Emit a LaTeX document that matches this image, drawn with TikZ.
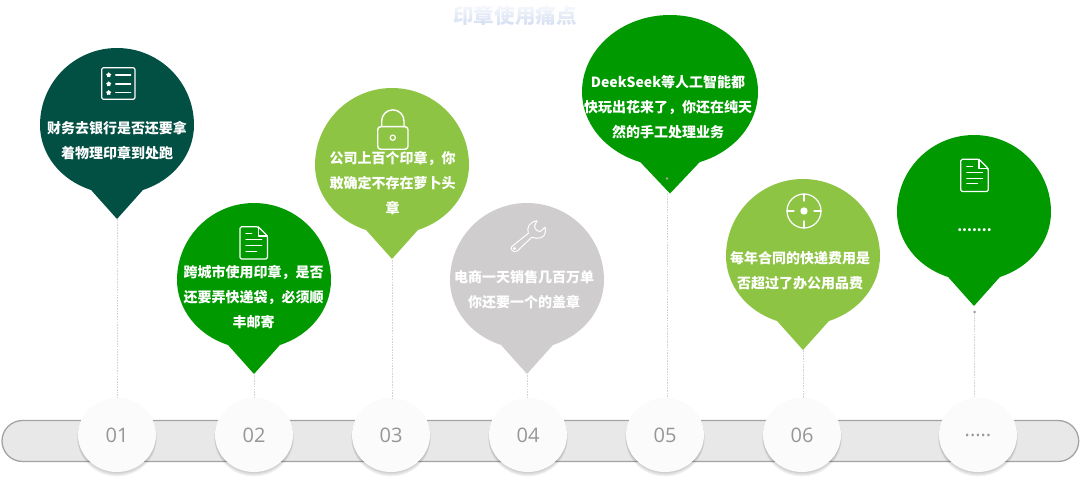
\documentclass[tikz,border=0pt]{standalone}
\usepackage{fontspec}
\setmainfont{Noto Sans CJK SC}
\newfontfamily\numfont{Open Sans}
\usetikzlibrary{positioning, shapes.geometric, fadings}
\definecolor{PinTeal}{RGB}{2,79,67}
\definecolor{PinGreen}{RGB}{0,153,0}
\definecolor{PinLime}{RGB}{142,196,68}
\definecolor{PinGrey}{RGB}{207,205,206}
\definecolor{BarFill}{RGB}{232,232,232}
\definecolor{BarLine}{RGB}{163,163,163}
\definecolor{BadgeFill}{RGB}{251,251,251}
\definecolor{BadgeText}{RGB}{150,150,150}
\definecolor{ConnLine}{RGB}{212,212,212}
\definecolor{TitleBlue}{RGB}{212,223,242}
\newcommand{\moredots}{\raisebox{-3pt}{.{}.{}.{}.{}.}}
\tikzset{
    pintext/.style={text=white, font=\fontsize{14}{25}\selectfont\bfseries, align=center, inner sep=0},
    badge/.style={ellipse, fill=BadgeFill, minimum width=78, minimum height=74, inner sep=0,
        text=BadgeText, font=\fontsize{20}{24}\numfont},
    conn/.style={ConnLine, line width=0.7, dash pattern=on 1.6 off 1.1},
    icon/.style={white, line width=1.2, line join=round, line cap=round},
    docicon/.pic={
        \draw[icon, rounded corners=1.5] (-13.7,-16) -- (-13.7,16.2) -- (4.5,16.2) -- (13.7,7) -- (13.7,-16) -- cycle;
        \draw[icon] (4.5,16.2) -- (4.5,7) -- (13.7,7);
        \draw[icon] (-7.7,9.3) -- (-2,9.3);
        \draw[icon] (-7.7,3.3) -- (8,3.3);
        \draw[icon] (-7.7,-2.7) -- (8,-2.7);
        \draw[icon] (-7.7,-8.3) -- (3,-8.3);
    }
}
\begin{document}
\begin{tikzpicture}[x=1pt, y=1pt]
\useasboundingbox (0,0) rectangle (1080,480);
% faded heading at the top edge
\node[text=TitleBlue, font=\fontsize{20.6}{24}\selectfont\bfseries, inner sep=0] (title) at (515,464) {印章使用痛点};
\fill[white, path fading=south] (445,480) rectangle (585,455);

% timeline bar
\draw[BarLine, fill=BarFill, line width=1.3, rounded corners=20.5] (2,18.5) rectangle (1078.7,59.5);

% speech pins
\foreach \n/\cx/\cy/\rx/\sb/\col in {1/117/355/77/1/PinTeal, 2/254/200/77/1/PinGreen, 3/392/315/77/1/PinLime, 4/527/200/77/1/PinGrey, 5/670/388/88/1.08/PinGreen, 6/803/224/77/1/PinLime, 7/974/268/77/1/PinGreen}
{
    \fill[\col] (\cx-\rx,\cy) arc[start angle=180, end angle=0, x radius=\rx, y radius=77]
        arc[start angle=0, end angle=-70.3, x radius=\rx, y radius=69*\sb]
        -- (\cx,\cy-94*\sb) -- ({\cx-0.337*\rx},{\cy-64.96*\sb})
        arc[start angle=-109.7, end angle=-180, x radius=\rx, y radius=69*\sb] -- cycle;
}

% badges on the bar
\foreach \n/\bx/\lab in {1/117/01, 2/254/02, 3/391/03, 4/528/04, 5/665/05, 6/802/06, 7/978/\moredots}
{
    \foreach \o in {4,3,2,1}
        \fill[black, opacity=0.05] (\bx,45-\o*0.8) ellipse[x radius=38.5+\o*0.3, y radius=37+\o*0.3];
    \node[badge] (B\n) at (\bx,45) {\lab};
}

% connectors
\foreach \n/\lx/\ly in {1/117/261, 2/254/105, 3/392/220, 4/527/105, 5/667/287, 6/803/130, 7/974.5/168}
{
    \coordinate (T\n) at (\lx,\ly);
    \draw[conn] (T\n) -- (T\n |- B\n.north);
}
\fill[BarLine] (667,301.5) circle[radius=1.3];
\fill[BarLine] (974.5,168) circle[radius=1.5];

% pin texts
\node[pintext] (text1) at (117,339.5) {财务去银行是否还要拿\\着物理印章到处跑};
\node[pintext] (text2) at (253.5,183) {跨城市使用印章，是否\\还要弄快递袋，必须顺\\丰邮寄};
\node[pintext] (text3) at (392.5,297) {公司上百个印章，你\\敢确定不存在萝卜头\\章};
\node[pintext] (text4) at (524,190) {电商一天销售几百万单\\你还要一个的盖章};
\node[pintext] (text5) at (668,372.5) {DeekSeek等人工智能都\\快玩出花来了，你还在纯天\\然的手工处理业务};
\node[pintext] (text6) at (800,209.5) {每年合同的快递费用是\\否超过了办公用品费};
\node[pintext] (text7) at (974.5,250) {.{}.{}.{}.{}.{}.{}.};

% icon: list with stars
\draw[icon, rounded corners=2] (101.7,380.7) rectangle (135,412.3);
\foreach \i/\y in {1/405, 2/396, 3/387.3}
{
    \node[star, star points=5, fill=white, inner sep=0, minimum size=5.5] (star\i) at (108.7,\y) {};
    \draw[icon] (115.7,\y) -- (130.7,\y);
}

% icons: documents
\pic at (253.7,237) {docicon};
\pic at (974.5,304.5) {docicon};

% icon: lock
\draw[icon, rounded corners=3, line width=1.4] (377.7,330.7) rectangle (408,353.3);
\draw[icon, line width=1.4] (381.7,353.3) -- (381.7,359) arc[start angle=180, end angle=0, radius=11.15] -- (404,353.3);
\draw[icon] (392.8,342.3) circle[radius=2.6];

% icon: wrench
\draw[icon, line width=1] (528.3,246.7) .. controls (526.5,252) and (529,258) .. (537,259.3)
    -- (534.5,254) .. controls (535,250) and (538,248.5) .. (540,248.3)
    -- (545,252.7) .. controls (547,246) and (543,241) .. (536.7,241.7)
    -- (531.7,242.7) -- (517.3,229) .. controls (514,226.5) and (509.5,231) .. (511.7,233.3) -- cycle;
\draw[icon, line width=0.8] (514.5,231.5) circle[radius=1];

% icon: target
\draw[icon] (804,269) circle[radius=17];
\fill[white] (804,269) circle[radius=3.7];
\draw[icon] (804,286) -- (804,279);
\draw[icon] (804,252) -- (804,259);
\draw[icon] (787,269) -- (794,269);
\draw[icon] (821,269) -- (814,269);
\end{tikzpicture}
\end{document}
